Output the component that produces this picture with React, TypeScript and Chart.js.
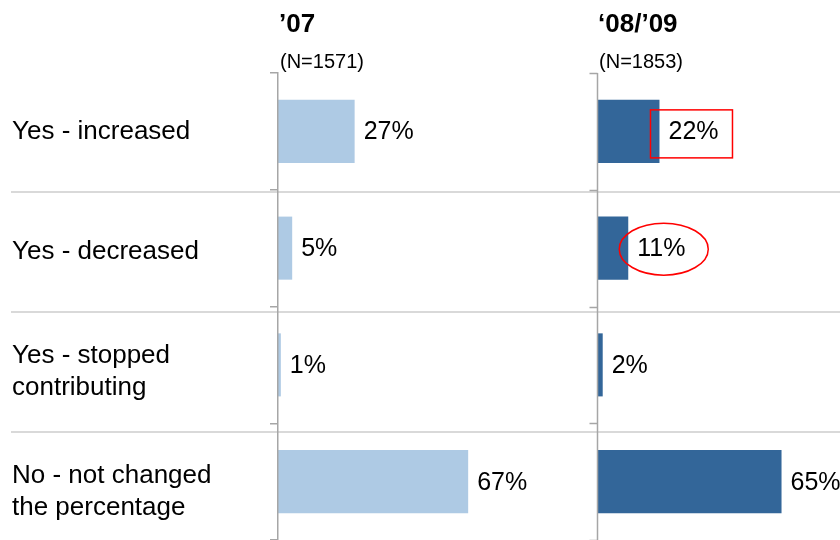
import React, { useEffect, useRef } from "react";
import { Chart, registerables } from "chart.js";

Chart.register(...registerables);

// ---- data ----
const CATEGORIES: string[][] = [
  ["Yes - increased"],
  ["Yes - decreased"],
  ["Yes - stopped", "contributing"],
  ["No - not changed", "the percentage"],
];
const PERIODS = ["\u201907", "\u201808/\u201909"];
const SAMPLE_SIZES = ["(N=1571)", "(N=1853)"];
const VALUES_07 = [27, 5, 1, 67];
const VALUES_0809 = [22, 11, 2, 65];
const HIGHLIGHTS = [
  { dataset: 1, index: 0, shape: "box" },
  { dataset: 1, index: 1, shape: "ellipse" },
];

// ---- layout / style ----
const PANEL_SPAN = 112.4; // units per panel
const X_MAX = 198;
const FONT = "Arial, 'Liberation Sans', Helvetica, sans-serif";
const LIGHT = "#AECAE4";
const DARK = "#336699";
const AXIS_GREY = "#A6A6A6";
const RULE_GREY = "#D9D9D9";

const panelPlugin = {
  id: "panelDecor",
  beforeDatasetsDraw(chart: any) {
    const { ctx, chartArea } = chart;
    // table row rules
    ctx.save();
    ctx.strokeStyle = RULE_GREY;
    ctx.lineWidth = 2;
    const rowTop = chartArea.top - 1;
    for (let k = 1; k < CATEGORIES.length; k++) {
      const y = rowTop + 120 * k;
      ctx.beginPath();
      ctx.moveTo(11, y);
      ctx.lineTo(chart.width, y);
      ctx.stroke();
    }
    ctx.restore();
  },
  afterDatasetsDraw(chart: any) {
    const { ctx, chartArea } = chart;
    const xs = chart.scales.x;
    const ys = chart.scales.y;
    const origins = [xs.getPixelForValue(0), xs.getPixelForValue(PANEL_SPAN)];

    ctx.save();
    // second panel axis line + ticks
    ctx.strokeStyle = AXIS_GREY;
    ctx.lineWidth = 1.5;
    const x2 = Math.round(origins[1]) + 0.5;
    ctx.beginPath();
    ctx.moveTo(x2, chartArea.top);
    ctx.lineTo(x2, chartArea.bottom);
    ctx.stroke();
    for (let k = 0; k <= CATEGORIES.length; k++) {
      const y = Math.round(ys.getPixelForValue(k - 0.5)) + 0.5;
      ctx.beginPath();
      ctx.moveTo(x2 - 8, y);
      ctx.lineTo(x2, y);
      ctx.stroke();
    }

    // category labels (centered in table rows)
    ctx.fillStyle = "#000";
    ctx.textAlign = "left";
    ctx.textBaseline = "middle";
    ctx.font = `26px ${FONT}`;
    const rowTop = chartArea.top - 1;
    CATEGORIES.forEach((lines, i) => {
      const cy = rowTop + 60 + 120 * i;
      const lh = 32;
      const y0 = cy - ((lines.length - 1) * lh) / 2;
      lines.forEach((ln, j) => ctx.fillText(ln, 12, y0 + j * lh));
    });

    // panel titles
    PERIODS.forEach((p, i) => {
      ctx.font = `bold 26px ${FONT}`;
      ctx.textBaseline = "alphabetic";
      ctx.fillText(p, origins[i] + 1, 32);
      ctx.font = `20px ${FONT}`;
      ctx.fillText(SAMPLE_SIZES[i], origins[i] + 2, 68);
    });

    // value labels
    ctx.font = `25px ${FONT}`;
    ctx.textBaseline = "middle";
    chart.data.datasets.forEach((ds: any, di: number) => {
      const meta = chart.getDatasetMeta(di);
      const vals = di === 0 ? VALUES_07 : VALUES_0809;
      meta.data.forEach((el: any, i: number) => {
        ctx.fillText(`${vals[i]}%`, el.x + 9, el.y + 1);
      });
    });

    // highlights
    ctx.strokeStyle = "#FF0000";
    ctx.lineWidth = 1.5;
    HIGHLIGHTS.forEach((h) => {
      const el = chart.getDatasetMeta(h.dataset).data[h.index] as any;
      if (h.shape === "box") {
        ctx.strokeRect(el.x - 9, el.y - 21.5, 82, 48);
      } else {
        ctx.beginPath();
        ctx.ellipse(el.x + 35.5, el.y + 1, 44.5, 26, 0, 0, Math.PI * 2);
        ctx.stroke();
      }
    });
    ctx.restore();
  },
};

export default function App() {
  const ref = useRef<HTMLCanvasElement | null>(null);
  useEffect(() => {
    if (!ref.current) return;
    const chart = new Chart(ref.current, {
      type: "bar",
      data: {
        labels: CATEGORIES.map((c) => c.join(" ")),
        datasets: [
          {
            label: PERIODS[0],
            data: VALUES_07,
            backgroundColor: LIGHT,
            grouped: false,
            barPercentage: 0.9,
            categoryPercentage: 0.6,
          } as any,
          {
            label: PERIODS[1],
            data: VALUES_0809.map((v) => [PANEL_SPAN, PANEL_SPAN + v]),
            backgroundColor: DARK,
            grouped: false,
            barPercentage: 0.9,
            categoryPercentage: 0.6,
          } as any,
        ],
      },
      options: {
        indexAxis: "y",
        responsive: false,
        animation: false,
        devicePixelRatio: 1,
        layout: { padding: { left: 12, top: 73, right: 0, bottom: 0 } },
        plugins: { legend: { display: false }, tooltip: { enabled: false } },
        scales: {
          x: { display: false, min: 0, max: X_MAX },
          y: {
            offset: true,
            ticks: { display: false },
            grid: {
              offset: true,
              drawOnChartArea: false,
              drawTicks: true,
              tickLength: 8,
              color: AXIS_GREY,
              lineWidth: 1.5,
            },
            border: { display: true, color: AXIS_GREY, width: 1.5, z: 1 },
            afterFit: (s: any) => {
              s.width = 266;
            },
          },
        },
      },
      plugins: [panelPlugin],
    } as any);
    return () => chart.destroy();
  }, []);
  return (
    <div style={{ position: "fixed", left: 0, top: 0, width: 840, height: 540, background: "#fff" }}>
      <canvas ref={ref} width={840} height={540} />
    </div>
  );
}
